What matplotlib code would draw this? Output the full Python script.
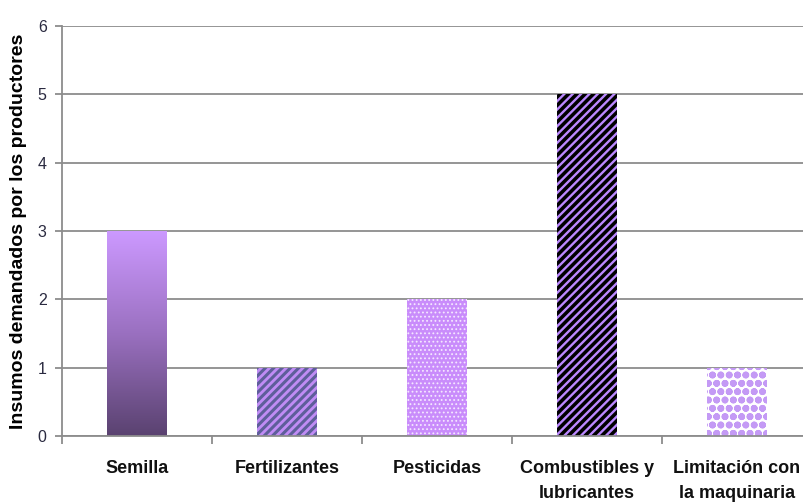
import matplotlib
matplotlib.use("Agg")
import matplotlib.pyplot as plt
import numpy as np
from matplotlib.colors import LinearSegmentedColormap

categories = ["Semilla", "Fertilizantes", "Pesticidas", "Combustibles y\nlubricantes", "Limitación con\nla maquinaria"]
values = [3, 1, 2, 5, 1]
yticks = [0, 1, 2, 3, 4, 5, 6]
ylabel = "Insumos demandados por los productores"

fig = plt.figure(figsize=(8.04, 5.04), dpi=100)
ax = fig.add_axes([62/804, 68/504, 750/804, 410/504])
x = np.arange(len(categories))
w = 0.4

ax.yaxis.grid(True, color="#8c8c8c", linewidth=1.3)
ax.set_axisbelow(True)
for s in ["top", "right"]:
    ax.spines[s].set_visible(False)
for s in ["left", "bottom"]:
    ax.spines[s].set_color("#8c8c8c")
    ax.spines[s].set_linewidth(1.3)

bars = ax.bar(x, values, width=w, zorder=2)
# Semilla: vertical gradient
b0 = bars[0]
b0.set_facecolor("none")
b0.set_linewidth(0)
cmap = LinearSegmentedColormap.from_list("g", ["#5a4270", "#9a70c0", "#cc99ff"])
grad = np.linspace(0, 1, 256).reshape(-1, 1)
im = ax.imshow(grad, cmap=cmap, origin="lower", aspect="auto",
               extent=[x[0] - w/2, x[0] + w/2, 0, values[0]], zorder=2)
im.set_clip_path(b0)

def style(bar, face, hatch, hcolor, hlw):
    bar.set_facecolor(face)
    bar.set_hatch(hatch)
    bar.set_edgecolor(hcolor)
    bar.set_linewidth(0)
    try:
        bar.set_hatch_linewidth(hlw)
    except AttributeError:
        pass

style(bars[1], "#c08cf5", "////", "#5e5e9a", 2.2)
style(bars[2], "#c98cfb", "....", "#f4e8ff", 0.8)
style(bars[3], "#000000", "////", "#bb88ff", 1.7)
style(bars[4], "#ffffff", "oo", "#c49af5", 2.5)

ax.set_xlim(-0.5, len(categories) - 0.5)
ax.set_ylim(0, 6)
ax.set_yticks(yticks)
ax.set_xticks(x)
ax.set_xticklabels(categories, fontsize=13, fontweight="bold", fontfamily="Liberation Sans",
                   color="#111111", linespacing=1.65)
ax.tick_params(axis="x", which="major", length=0, pad=17)
ax.set_xticks(np.arange(-0.5, len(categories), 1), minor=True)
ax.tick_params(axis="x", which="minor", length=6, color="#8c8c8c", width=1.3)
ax.tick_params(axis="y", length=5, color="#8c8c8c", width=1.3, labelsize=11.5, labelcolor="#2a2a40", pad=6)
for t in ax.get_yticklabels():
    t.set_fontfamily("Liberation Sans")
ax.set_ylabel(ylabel, fontsize=14, fontweight="bold", fontfamily="Liberation Sans", labelpad=8)

fig.savefig("out.png", dpi=100)
